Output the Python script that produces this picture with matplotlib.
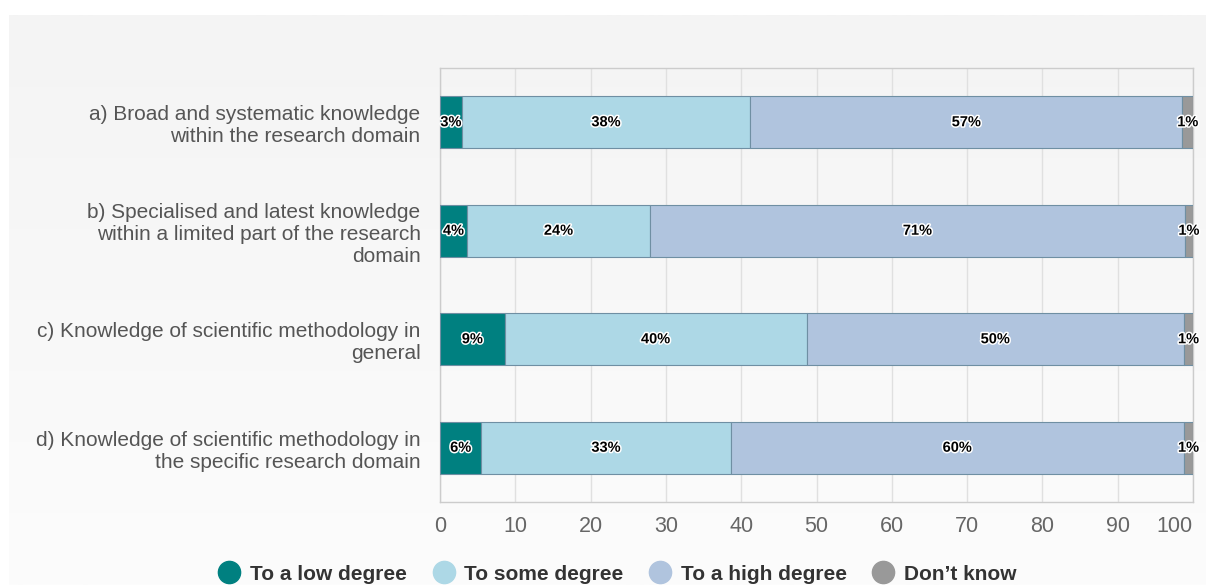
import numpy as np
import matplotlib.pyplot as plt
import matplotlib.patheffects as pe
from matplotlib.lines import Line2D
from matplotlib.colors import LinearSegmentedColormap

plt.rcParams['font.family'] = ['Liberation Sans', 'DejaVu Sans']

categories = [
    "a) Broad and systematic knowledge\nwithin the research domain",
    "b) Specialised and latest knowledge\nwithin a limited part of the research\ndomain",
    "c) Knowledge of scientific methodology in\ngeneral",
    "d) Knowledge of scientific methodology in\nthe specific research domain",
]
series_names = ["To a low degree", "To some degree", "To a high degree", "Don\u2019t know"]
low = [2.9, 3.6, 8.6, 5.5]
some = [38.3, 24.3, 40.1, 33.1]
high = [57.4, 71.0, 50.1, 60.2]
dont_know = [1.4, 1.1, 1.2, 1.2]
colors = ["#008080", "#add8e6", "#b0c4de", "#999999"]

fig = plt.figure(figsize=(12.06, 5.85), dpi=100)

# light gray panel with a soft vertical gradient
bg = fig.add_axes([9 / 1206, 0, 1 - 9 / 1206, 1 - 15 / 585], zorder=-10)
grad = np.linspace(0, 1, 256).reshape(-1, 1)
bg.imshow(grad, aspect='auto', cmap=LinearSegmentedColormap.from_list('g', ['#f4f4f4', '#fcfcfc']),
          extent=[0, 1, 0, 1])
bg.axis('off')

ax = fig.add_axes([440 / 1206, 1 - 502 / 585, (1193 - 440) / 1206, (502 - 68) / 585])
ax.set_facecolor('none')

y = np.arange(len(categories))
left = np.zeros(len(categories))
for name, vals, col in zip(series_names, [low, some, high, dont_know], colors):
    vals = np.array(vals)
    ax.barh(y, vals, left=left, height=0.48, color=col, edgecolor='#6f8fa3',
            linewidth=0.8, label=name, zorder=3)
    for yi, l, v in zip(y, left, vals):
        ax.text(l + v / 2, yi, f"{round(v):.0f}%", ha='center', va='center',
                fontsize=10.5, fontweight='bold', color='black', zorder=5,
                path_effects=[pe.withStroke(linewidth=2.2, foreground='white')])
    left = left + vals

ax.set_xlim(0, 100)
ax.set_ylim(3.5, -0.5)
ax.set_xticks(range(0, 101, 10))
ax.set_yticks(y)
ax.set_yticklabels(categories, fontsize=15, color='#555555', linespacing=1.2)
ax.tick_params(axis='x', labelsize=15.5, labelcolor='#666666', length=0, pad=10)
ax.tick_params(axis='y', length=0, pad=14)
ax.get_xticklabels()[-1].set_horizontalalignment('right')
ax.grid(axis='x', color='#e0e0e0', linewidth=1, zorder=0)
for s in ax.spines.values():
    s.set_color('#cccccc')
    s.set_linewidth(1)

handles = [Line2D([0], [0], marker='o', linestyle='none', markersize=16,
                  markerfacecolor=c, markeredgecolor=c) for c in colors]
fig.legend(handles, series_names, loc='center', bbox_to_anchor=(0.508, 1 - 574 / 585),
           ncol=4, frameon=False, handletextpad=0.0, columnspacing=0.75,
           prop={'size': 15, 'weight': 'bold'}, labelcolor='#333333')

fig.savefig('out.png', dpi=100)
